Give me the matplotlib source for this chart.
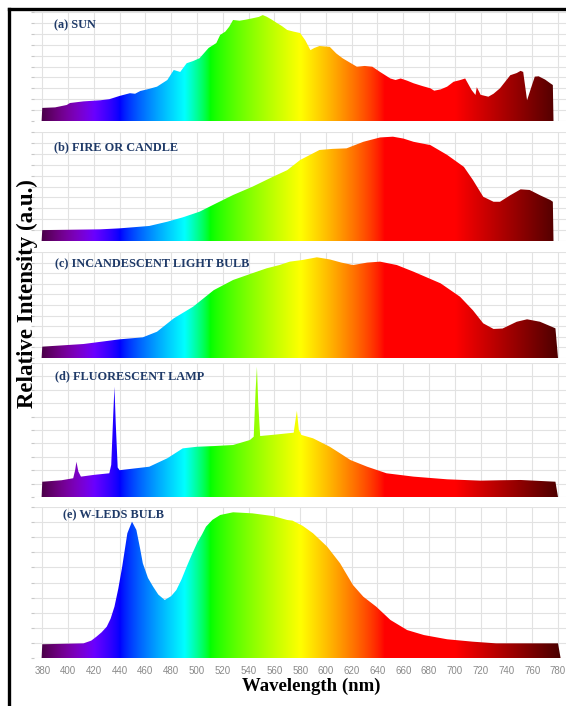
import numpy as np
import matplotlib.pyplot as plt
from matplotlib.lines import Line2D

plt.rcParams['font.family'] = ['Liberation Serif', 'DejaVu Serif']

labels = ['(a) SUN', '(b) FIRE OR CANDLE', '(c) INCANDESCENT LIGHT BULB',
          '(d) FLUORESCENT LAMP', '(e) W-LEDS BULB']
tick_wl = list(range(380, 781, 20))

# (a) sun
sun_wl = [379.5, 380, 390, 399, 401.5, 412, 425, 432, 440, 448, 452, 456, 463, 469,
          477, 482, 487, 492, 497, 502, 509, 515, 518, 522, 525, 528, 533, 538,
          543, 548, 551, 554, 558, 562, 566, 570, 575, 580, 584, 588, 591, 595,
          603, 608, 613, 618, 624, 630, 636, 642, 650, 654, 658, 663, 668, 675,
          681, 684, 689, 694, 699, 704, 708, 713, 716, 717, 720, 726, 730, 735,
          743, 748, 751, 753, 756, 759, 762, 765, 770, 774, 776, 776.5]
sun_val = [0, 12, 12.5, 14.7, 16.5, 18, 19, 20, 23, 25.5, 25, 27.5, 29.5, 31.5,
           37.6, 46.8, 45, 53, 55, 57.6, 67, 71.5, 79, 82, 86.5, 92.7, 92, 93,
           94.2, 95.5, 97.2, 95.7, 93, 89.9, 87, 83.5, 82, 80.7, 74, 65, 67, 68.8,
           68, 62, 57.5, 54, 49.8, 50.5, 49.8, 45, 39, 37.6, 39, 37, 34.6, 32, 30,
           27.8, 29, 31.5, 36, 37.5, 39, 28.4, 23.9, 31, 24, 22.3, 25, 30, 42, 44,
           46, 45, 19, 30, 40.7, 41, 38, 34.6, 33, 0]

# (b) fire or candle
fire_wl = [379.5, 380, 400, 425, 440, 463, 477, 489, 502, 515, 528, 543, 559, 570,
           580, 595, 605, 616, 629, 642, 652, 660, 668, 681, 694, 707, 714, 722,
           730, 735, 743, 751, 758, 766, 774, 776, 776.5]
fire_val = [0, 10, 10.3, 10.7, 11.6, 13.8, 17.7, 21.7, 26.9, 34.6, 42.2, 49.8, 59,
            65, 74.3, 83.5, 84.5, 85, 91, 95, 95.7, 94, 91, 88, 79, 68, 56, 40.6,
            36, 36, 42, 47.4, 46.8, 42, 37.6, 36, 0]

# (c) incandescent light bulb
bulb_wl = [379.5, 380, 412, 440, 458, 469, 482, 497, 513, 528, 543, 554, 564, 572,
           582, 593, 603, 612, 621, 632, 642, 655, 668, 689, 704, 714, 722, 730,
           737, 748, 756, 766, 778, 780]
bulb_val = [0, 10.7, 13.2, 17.6, 19.5, 24.8, 37.4, 48.4, 64, 73.6, 80, 84.6, 87.7,
            90.9, 92.5, 95, 93, 90, 87.7, 90, 90.9, 87.7, 81.4, 70.4, 57.8, 45,
            32.7, 27.4, 27.8, 34.2, 36.5, 34.2, 28, 0]

# (d) fluorescent lamp
fluo_wl = [379.5, 380, 395, 404, 405.5, 406.5, 408, 410, 420, 432, 433.5, 435,
           436, 437, 438.5, 440, 463, 477, 489, 500, 513, 528, 541, 544, 545.5,
           546.5, 547.5, 549, 560, 570, 575, 576.5, 577.5, 579, 581, 590, 603, 611,
           619, 632, 647, 668, 694, 720, 735, 751, 778, 780]
fluo_val = [0, 11.4, 12.5, 14, 20, 26.3, 19, 15.2, 16.5, 17.7, 24, 60, 82.3, 55,
            22, 20, 22.6, 28.9, 36.3, 37.5, 38, 38.8, 42.5, 45, 80, 97.2, 70,
            45.5, 46.5, 47.5, 48, 58, 64.4, 50, 46.3, 43.8, 37.5, 32.6, 27.6, 22.6,
            17.7, 15.2, 13.2, 12.2, 12.5, 12.7, 11.4, 0]

# (e) white LED bulb
led_wl = [379.5, 380, 412, 418, 422, 426, 430, 433, 436, 439, 442, 446, 449.6,
          453, 456, 458, 462, 466, 470, 475, 480, 484, 488, 492, 496, 500, 504,
          507, 512, 518, 528, 543, 559, 570, 574, 582, 590, 601, 611, 621, 629,
          639, 650, 663, 676, 694, 714, 732, 780, 782]
led_val = [0, 9.1, 9.7, 11.5, 14.1, 17, 20.7, 26, 34, 46, 60.5, 82.6, 90.3, 84.8,
           72, 62.7, 53, 47.2, 42, 38.4, 41, 45, 52, 60.5, 68.5, 76, 82, 87, 91.5,
           94.7, 96.5, 95.8, 94, 91.4, 91, 87.5, 82.6, 73.7, 62.7, 48.3, 40.6,
           34, 25.2, 18.5, 15.2, 12.4, 10.8, 9.7, 9.7, 0]

spectra = [(sun_wl, sun_val), (fire_wl, fire_val), (bulb_wl, bulb_val),
           (fluo_wl, fluo_val), (led_wl, led_val)]


def wl_rgb(lam, gamma=0.8):
    # usual visible-spectrum colour approximation
    if lam < 440:
        r, g, b = (440 - lam) / 60, 0.0, 1.0
    elif lam < 490:
        r, g, b = 0.0, (lam - 440) / 50, 1.0
    elif lam < 510:
        r, g, b = 0.0, 1.0, (510 - lam) / 20
    elif lam < 580:
        r, g, b = (lam - 510) / 70, 1.0, 0.0
    elif lam < 645:
        r, g, b = 1.0, (645 - lam) / 65, 0.0
    else:
        r, g, b = 1.0, 0.0, 0.0
    if lam < 420:
        f = 0.3 + 0.7 * (lam - 380) / 40
    elif lam > 700:
        f = 0.3 + 0.7 * (780 - lam) / 80
    else:
        f = 1.0
    f = max(f, 0.3)
    return [min(max(c, 0), 1) ** gamma * f for c in (r, g, b)]


grad_x = np.linspace(378, 784, 1000)
grad = np.array([wl_rgb(w) for w in grad_x])[None, :, :]

W, H = 566, 706
fig = plt.figure(figsize=(W / 100, H / 100), dpi=100)

panel_px = [(12, 121), (132, 241), (252, 358), (363, 497), (507, 658)]
label_px = [(54, 25), (54, 147), (55, 264), (55, 376), (63, 515)]

for i, ((top, bot), (wl, val), lab) in enumerate(zip(panel_px, spectra, labels)):
    ax = fig.add_axes([34 / W, 1 - bot / H, 532 / W, (bot - top) / H])
    ax.set_xticks(tick_wl)
    ax.set_yticks(range(0, 101, 10))
    ax.grid(True, color='#e2e2e2', lw=0.8)
    ax.set_axisbelow(True)
    for s in ax.spines.values():
        s.set_visible(False)
    poly = ax.fill(wl, val, facecolor='none', edgecolor='none', zorder=2)[0]
    im = ax.imshow(grad, extent=[378, 784, 0, 100], aspect='auto',
                   origin='lower', zorder=2, interpolation='bilinear')
    im.set_clip_path(poly)
    ax.set_xlim(373.6, 786.2)
    ax.set_ylim(0, 100)
    ax.tick_params(axis='y', length=2, color='#c8c8c8', labelleft=False)
    ax.tick_params(axis='x', length=0, labelsize=7, labelcolor='#8a8a8a', pad=6)
    for t in ax.get_xticklabels():
        t.set_family(['Liberation Sans', 'DejaVu Sans'])
    if i < 4:
        ax.tick_params(axis='x', labelbottom=False)
    fig.text(label_px[i][0] / W, 1 - label_px[i][1] / H, lab, ha='left',
             va='center', fontsize=8.8, fontweight='bold', color='#1f3a68')

fig.text(27 / W, 1 - 294 / H, 'Relative Intensity (a.u.)', rotation=90,
         ha='center', va='center', fontsize=16.5, fontweight='bold')
fig.text(311 / W, 1 - 686 / H, 'Wavelength (nm)', ha='center', va='center',
         fontsize=13.5, fontweight='bold')

# frame around the figure (only top and left edges are in view)
fig.add_artist(Line2D([9 / W, 1], [1 - 9 / H, 1 - 9 / H], color='k', lw=2.4,
                      transform=fig.transFigure))
fig.add_artist(Line2D([9 / W, 9 / W], [1 - 9 / H, 0], color='k', lw=2.4,
                      transform=fig.transFigure))

fig.savefig('out.png', dpi=100)
